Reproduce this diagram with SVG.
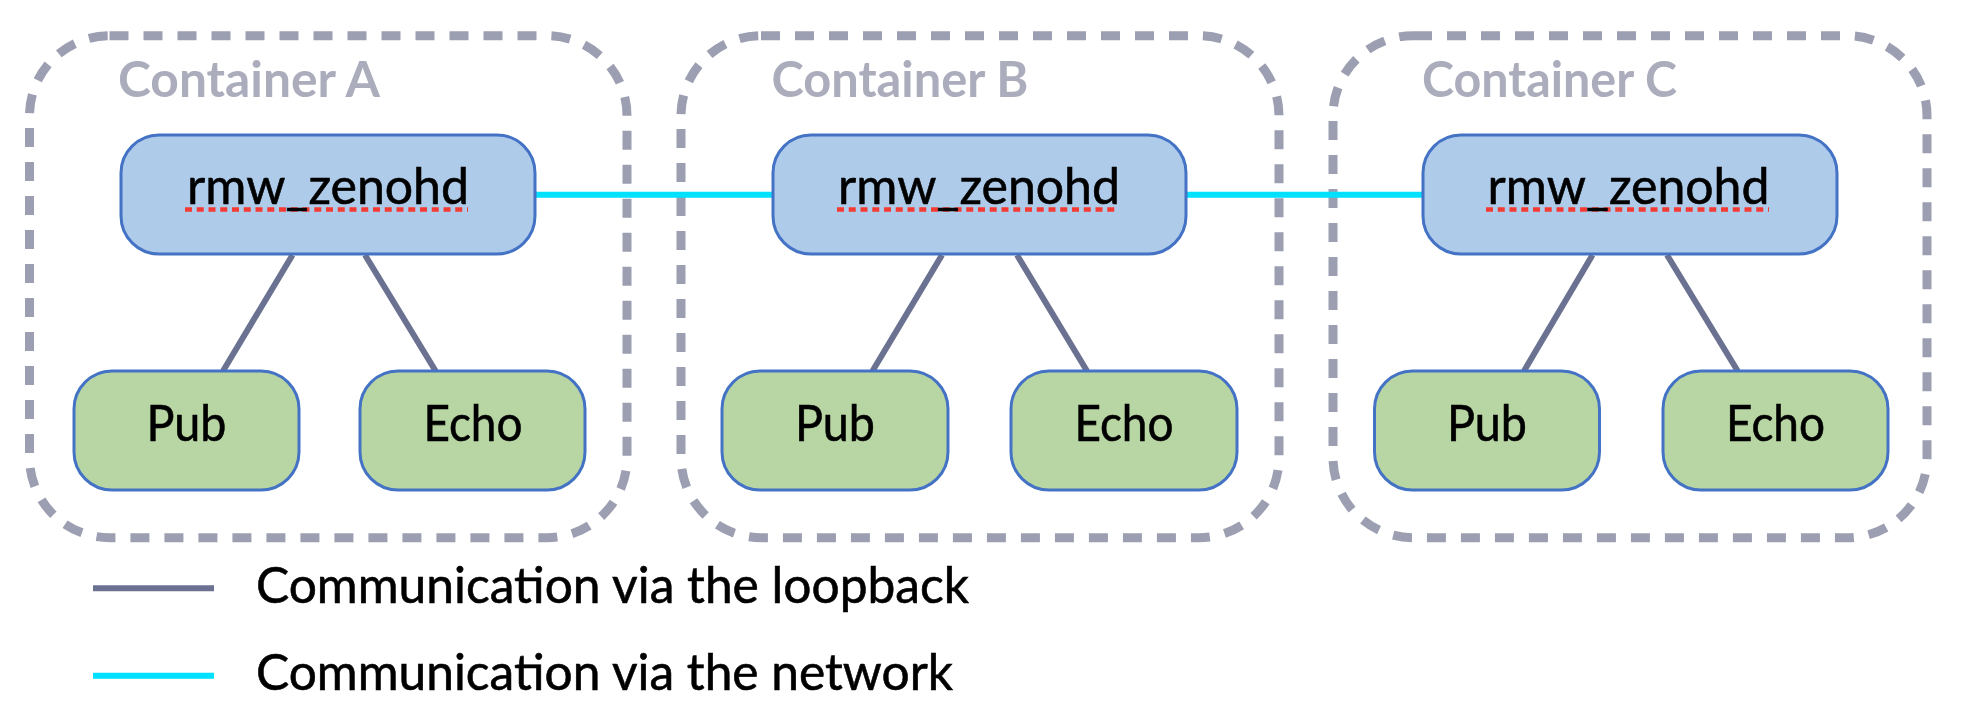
<svg xmlns="http://www.w3.org/2000/svg" width="1962" height="710" viewBox="0 0 1962 710">
<style>
.cont{fill:none;stroke:#9c9fb1;stroke-width:9;stroke-dasharray:19 15}
.clabel{font-family:Lato,"Noto Sans",sans-serif;font-weight:bold;font-size:50px;fill:#abadbd}
.rmw{fill:#afcbea;stroke:#4472c4;stroke-width:3}
.app{fill:#b8d6a4;stroke:#4472c4;stroke-width:3}
.t{font-family:Lato,"Noto Sans",sans-serif;font-size:51px;fill:#000;stroke:#000;stroke-width:0.6}
.spell{stroke:#f43b33;stroke-width:4.5;stroke-dasharray:7 4.75}
.loop{stroke:#6b7190;stroke-width:6;fill:none}
.net{stroke:#00e0ff;stroke-width:6;fill:none}
</style>
<rect width="1962" height="710" fill="#fff"/>
<g id="containerA">
<rect class="cont" x="29.5" y="35.7" width="597.5" height="502" rx="80"/>
<text class="clabel" x="118" y="96.7" textLength="262" lengthAdjust="spacingAndGlyphs">Container A</text>
</g>
<g id="containerB">
<rect class="cont" x="681" y="35.7" width="598" height="502" rx="80"/>
<text class="clabel" x="771.5" y="96.7" textLength="257" lengthAdjust="spacingAndGlyphs">Container B</text>
</g>
<g id="containerC">
<rect class="cont" x="1333" y="35.7" width="594" height="502" rx="80"/>
<text class="clabel" x="1422" y="96.7" textLength="255" lengthAdjust="spacingAndGlyphs">Container C</text>
</g>
<g id="connectors">
<line class="net" x1="535" y1="194.7" x2="773" y2="194.7"/>
<line class="net" x1="1186" y1="194.7" x2="1423" y2="194.7"/>
<line class="loop" x1="292.5" y1="255" x2="223" y2="371"/>
<line class="loop" x1="365" y1="255" x2="435.6" y2="371"/>
<line class="loop" x1="942" y1="255" x2="872.5" y2="371"/>
<line class="loop" x1="1017" y1="255" x2="1087" y2="371"/>
<line class="loop" x1="1592.5" y1="255" x2="1524" y2="371"/>
<line class="loop" x1="1667" y1="255" x2="1737.7" y2="371"/>
</g>
<g id="rmwA">
<rect class="rmw" x="121" y="135" width="414" height="119" rx="38"/>
<line class="spell" x1="185" y1="209.5" x2="468" y2="209.5"/>
<text class="t" x="328" y="204" text-anchor="middle" textLength="282" lengthAdjust="spacingAndGlyphs">rmw_zenohd</text>
</g>
<g id="rmwB">
<rect class="rmw" x="773" y="135" width="413" height="119" rx="38"/>
<line class="spell" x1="837" y1="209.5" x2="1119" y2="209.5"/>
<text class="t" x="979" y="204" text-anchor="middle" textLength="282" lengthAdjust="spacingAndGlyphs">rmw_zenohd</text>
</g>
<g id="rmwC">
<rect class="rmw" x="1423" y="135" width="414" height="119" rx="38"/>
<line class="spell" x1="1486" y1="209.5" x2="1769" y2="209.5"/>
<text class="t" x="1628.5" y="204" text-anchor="middle" textLength="282" lengthAdjust="spacingAndGlyphs">rmw_zenohd</text>
</g>
<g id="pubA">
<rect class="app" x="74" y="371" width="225" height="119" rx="38"/>
<text class="t" x="186.5" y="440.7" text-anchor="middle" textLength="80" lengthAdjust="spacingAndGlyphs">Pub</text>
</g>
<g id="echoA">
<rect class="app" x="360" y="371" width="225" height="119" rx="38"/>
<text class="t" x="473" y="440.7" text-anchor="middle" textLength="99" lengthAdjust="spacingAndGlyphs">Echo</text>
</g>
<g id="pubB">
<rect class="app" x="722" y="371" width="226" height="119" rx="38"/>
<text class="t" x="835" y="440.7" text-anchor="middle" textLength="80" lengthAdjust="spacingAndGlyphs">Pub</text>
</g>
<g id="echoB">
<rect class="app" x="1011" y="371" width="226" height="119" rx="38"/>
<text class="t" x="1124" y="440.7" text-anchor="middle" textLength="99" lengthAdjust="spacingAndGlyphs">Echo</text>
</g>
<g id="pubC">
<rect class="app" x="1374.5" y="371" width="225" height="119" rx="38"/>
<text class="t" x="1487" y="440.7" text-anchor="middle" textLength="80" lengthAdjust="spacingAndGlyphs">Pub</text>
</g>
<g id="echoC">
<rect class="app" x="1663" y="371" width="225" height="119" rx="38"/>
<text class="t" x="1775.5" y="440.7" text-anchor="middle" textLength="99" lengthAdjust="spacingAndGlyphs">Echo</text>
</g>
<g id="legend">
<line class="loop" x1="93" y1="588.3" x2="214" y2="588.3"/>
<text class="t" x="256" y="603" textLength="713" lengthAdjust="spacingAndGlyphs">Communication via the loopback</text>
<line class="net" x1="93" y1="675.7" x2="214" y2="675.7"/>
<text class="t" x="256" y="690" textLength="697" lengthAdjust="spacingAndGlyphs">Communication via the network</text>
</g>
</svg>
